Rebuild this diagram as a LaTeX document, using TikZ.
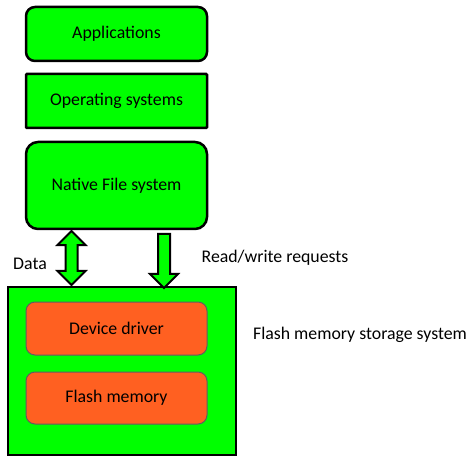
\documentclass[tikz,border=0pt]{standalone}
\usepackage{fontspec}
\setmainfont{Carlito}
\usetikzlibrary{shapes.arrows,calc}

\definecolor{layergreen}{HTML}{00FF00}
\definecolor{layerorange}{HTML}{FF6021}
\definecolor{layeredge}{HTML}{5F5F5F}

\tikzset{
    layer/.style={
        draw=black,
        line width=2.5pt,
        fill=layergreen,
        minimum width=181pt,
        font=\fontsize{17.8}{21}\selectfont
    },
    device/.style={
        draw=layeredge,
        line width=1pt,
        fill=layerorange,
        rounded corners=9pt,
        minimum width=181pt,
        font=\fontsize{17.8}{21}\selectfont
    },
    fatarrow/.style={
        draw=black,
        line width=2pt,
        fill=layergreen,
        inner xsep=5pt,
        inner ysep=0pt,
        minimum width=27pt,
        shape border rotate=270
    },
    caption/.style={
        font=\fontsize{17.8}{21}\selectfont
    }
}

\begin{document}
\begin{tikzpicture}
    \useasboundingbox (0,0) rectangle (474pt,-465pt);
    \begin{scope}[
        x=1pt,
        y=1pt
    ]
        \node[layer,rounded corners=9pt,minimum height=54pt] (apps) at (116.5,-34) {Applications};
        \node[layer,rounded corners=1pt,minimum height=54pt] (os) at (116.5,-101) {Operating systems};
        \node[layer,rounded corners=12pt,minimum height=87pt] (nfs) at (116.5,-185.5) {Native File system};
        \node[layer,minimum width=228pt,minimum height=168pt] (storage) at (122,-371) {};
        \node[device,minimum height=53pt] (driver) at (116.5,-328.5) {Device driver};
        \node[device,minimum height=52pt] (flash) at (116.5,-398) {Flash memory};
        \coordinate (datax) at (71.5,0);
        \coordinate (rwx) at (164,0);
        \path (nfs.south -| datax) -- (storage.north -| datax)
            node[midway,fatarrow,double arrow,double arrow head extend=8pt,minimum height=54pt] (data) {};
        \path (nfs.south -| rwx) -- (storage.north -| rwx)
            node[midway,fatarrow,single arrow,single arrow head extend=8pt,minimum height=54pt] (rw) {};
        \node[caption] (datalabel) at (30,-264) {Data};
        \node[caption] (rwlabel) at (275,-258) {Read/write requests};
        \node[caption] (storagelabel) at (360,-335) {Flash memory storage system};
    \end{scope}
\end{tikzpicture}
\end{document}
